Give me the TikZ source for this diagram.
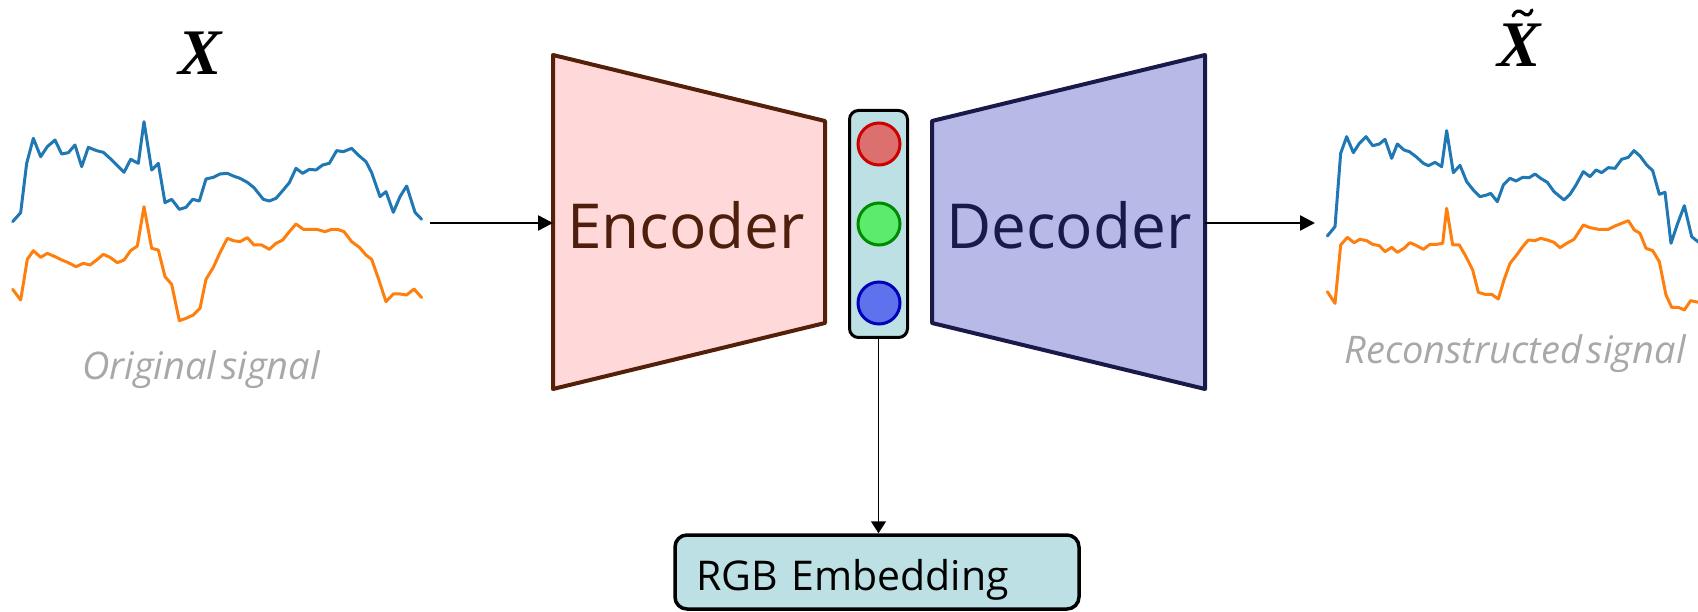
\documentclass[tikz,border=0pt]{standalone}
\usepackage{fontspec}
\setmainfont{Open Sans}
\newfontfamily\xfont{Liberation Serif}
\usetikzlibrary{arrows.meta}

\definecolor{sigblue}{HTML}{1F77B4}
\definecolor{sigorange}{HTML}{FF7F0E}
\definecolor{encfill}{HTML}{FFD9D9}
\definecolor{encdraw}{HTML}{55200A}
\definecolor{enctext}{HTML}{4E1F0C}
\definecolor{decfill}{HTML}{B7B9E6}
\definecolor{decdraw}{HTML}{1A1A4A}
\definecolor{latfill}{HTML}{BCE0E3}
\definecolor{capgray}{HTML}{A8A8A8}
\definecolor{redfill}{HTML}{DC706E}
\definecolor{reddraw}{HTML}{CC0000}
\definecolor{greenfill}{HTML}{5DEB6E}
\definecolor{greendraw}{HTML}{008A00}
\definecolor{bluefill}{HTML}{5E72EE}
\definecolor{bluedraw}{HTML}{0000B8}

\tikzset{
  sig/.style={line width=3pt, line join=round, line cap=round},
  caption/.style={anchor=base, text=capgray, inner sep=0pt,
    font=\itshape\fontsize{38}{38}\selectfont},
  symb/.style={anchor=base, inner sep=0pt,
    font=\xfont\bfseries\itshape\fontsize{65}{65}\selectfont},
  blocktext/.style={anchor=base, inner sep=0pt, font=\fontsize{62}{62}\selectfont},
  flow/.style={line width=2.5pt, -{Triangle[length=15pt,width=15pt]}},
  unit/.style={circle, minimum size=42pt, inner sep=0pt, line width=3pt},
}

\begin{document}
\begin{tikzpicture}[x=1pt,y=-1pt]
\useasboundingbox (0,0) rectangle (1698,612);

% ---------- input signal ----------
\begin{scope}[xscale=1/3, yscale=1/3]
\draw[sig, sigblue] (38,665)--(62,638)--(80,490)--(100,415)--(122,470)--(142,440)--(165,420)--(185,462)--(205,458)--(225,435)--(245,500)--(265,442)--(290,452)--(310,457)--(330,475)--(350,495)--(372,517)--(392,478)--(415,490)--(432,365)--(455,510)--(475,490)--(495,608)--(515,598)--(538,628)--(558,622)--(578,598)--(598,603)--(618,537)--(640,532)--(660,522)--(682,520)--(700,528)--(720,535)--(742,547)--(762,563)--(790,598)--(808,603)--(828,595)--(848,572)--(868,548)--(888,505)--(908,520)--(928,508)--(948,510)--(968,495)--(988,490)--(1010,452)--(1030,455)--(1055,445)--(1078,468)--(1098,485)--(1115,518)--(1140,590)--(1158,575)--(1180,637)--(1200,590)--(1220,558)--(1245,637)--(1265,658);
\draw[sig, sigorange] (38,868)--(62,900)--(82,778)--(100,752)--(122,772)--(142,760)--(165,770)--(185,780)--(205,788)--(228,800)--(250,790)--(270,795)--(290,780)--(310,763)--(330,772)--(352,788)--(372,780)--(392,752)--(412,738)--(432,620)--(455,745)--(475,750)--(495,830)--(515,853)--(538,962)--(558,955)--(580,945)--(600,925)--(618,838)--(640,802)--(660,758)--(682,715)--(700,722)--(720,725)--(742,713)--(762,735)--(785,735)--(808,748)--(828,730)--(848,720)--(868,695)--(888,672)--(910,688)--(930,688)--(950,688)--(975,695)--(995,688)--(1012,688)--(1032,695)--(1055,725)--(1078,742)--(1098,765)--(1115,778)--(1135,835)--(1158,905)--(1180,882)--(1200,882)--(1220,885)--(1242,867)--(1265,893);
\end{scope}

% ---------- reconstructed signal ----------
\begin{scope}[shift={(1300,0)}, xscale=1/3, yscale=1/3]
\draw[sig, sigblue] (82,708)--(105,680)--(122,460)--(140,410)--(160,458)--(178,430)--(198,410)--(218,437)--(238,432)--(255,418)--(275,475)--(292,432)--(312,450)--(328,455)--(348,470)--(370,490)--(385,497)--(405,487)--(425,500)--(440,392)--(460,518)--(480,496)--(500,545)--(520,570)--(540,590)--(560,585)--(572,580)--(592,605)--(610,555)--(630,535)--(648,543)--(668,532)--(688,533)--(705,522)--(722,535)--(742,547)--(762,575)--(792,600)--(810,583)--(828,555)--(850,515)--(870,530)--(888,510)--(905,518)--(925,503)--(945,505)--(965,478)--(985,472)--(1002,452)--(1020,468)--(1040,495)--(1058,512)--(1078,583)--(1095,577)--(1113,730)--(1132,673)--(1153,617)--(1175,710)--(1200,730);
\draw[sig, sigorange] (82,875)--(105,910)--(122,735)--(142,712)--(162,728)--(180,718)--(200,722)--(218,733)--(238,737)--(255,755)--(275,742)--(292,757)--(312,745)--(330,728)--(350,737)--(370,748)--(390,733)--(410,733)--(428,730)--(440,625)--(458,735)--(478,735)--(498,770)--(518,810)--(535,877)--(555,883)--(575,883)--(595,897)--(612,840)--(630,790)--(650,765)--(668,740)--(685,720)--(705,722)--(722,715)--(742,720)--(762,727)--(780,743)--(800,730)--(822,718)--(850,675)--(870,683)--(895,688)--(925,688)--(945,678)--(965,670)--(985,662)--(1003,690)--(1020,700)--(1038,745)--(1058,752)--(1078,785)--(1098,885)--(1115,922)--(1135,922)--(1153,930)--(1172,902)--(1200,908);
\end{scope}

% ---------- symbols and captions ----------
\node[symb] (xin) at (200,75) {X};
\node[symb] (xout) at (1519.5,67) {X};
% tilde accent over the reconstructed symbol
\draw[line width=3.2pt, line cap=round]
  (1513,16) .. controls (1515,10) and (1520,10) .. (1523,13)
            .. controls (1526,16) and (1530,16) .. (1532,10);
\node[caption] (capin) at (201,380) {Original\hspace{5pt}signal};
\node[caption] (capout) at (1515,363) {Reconstructed\hspace{5pt}signal};

% ---------- encoder / decoder ----------
\coordinate (encTL) at (553,55);  \coordinate (encTR) at (825,121);
\coordinate (encBR) at (825,323); \coordinate (encBL) at (553,389);
\coordinate (decTL) at (932,121); \coordinate (decTR) at (1205,55);
\coordinate (decBR) at (1205,389); \coordinate (decBL) at (932,323);
\draw[line width=4pt, line join=round, draw=encdraw, fill=encfill]
  (encTL) -- (encTR) -- (encBR) -- (encBL) -- cycle;
\draw[line width=4pt, line join=round, draw=decdraw, fill=decfill]
  (decTL) -- (decTR) -- (decBR) -- (decBL) -- cycle;
\node[blocktext, text=enctext] (enc) at (686,249) {Encoder};
\node[blocktext, text=decdraw] (dec) at (1069,249) {Decoder};

% ---------- latent code ----------
\node[draw=black, fill=latfill, line width=3pt, rounded corners=9pt,
      minimum width=58pt, minimum height=227pt, inner sep=0pt] (lat) at (878.5,224) {};
\node[unit, draw=reddraw, fill=redfill] (cr) at (879,144) {};
\node[unit, draw=greendraw, fill=greenfill] (cg) at (879,224) {};
\node[unit, draw=bluedraw, fill=bluefill] (cb) at (879,303) {};

% ---------- embedding box ----------
\node[draw=black, fill=latfill, line width=3.5pt, rounded corners=12pt,
      text width=362pt, align=left, inner xsep=21pt, inner ysep=0pt,
      minimum height=74pt, text height=37pt, text depth=0pt,
      font=\fontsize{41}{41}\selectfont] (emb) at (877,572) {RGB Embedding};

% ---------- connectors ----------
\coordinate (sigin) at (430,223);
\coordinate (encin) at (553,223);
\coordinate (decout) at (1205,223);
\coordinate (sigrec) at (1315,223);
\draw[flow] (sigin) -- (encin);
\draw[flow] (decout) -- (sigrec);
\draw[line width=1.5pt, -{Triangle[length=12pt,width=15pt]}] (lat.south) -- (lat.south |- emb.north);
\end{tikzpicture}
\end{document}
